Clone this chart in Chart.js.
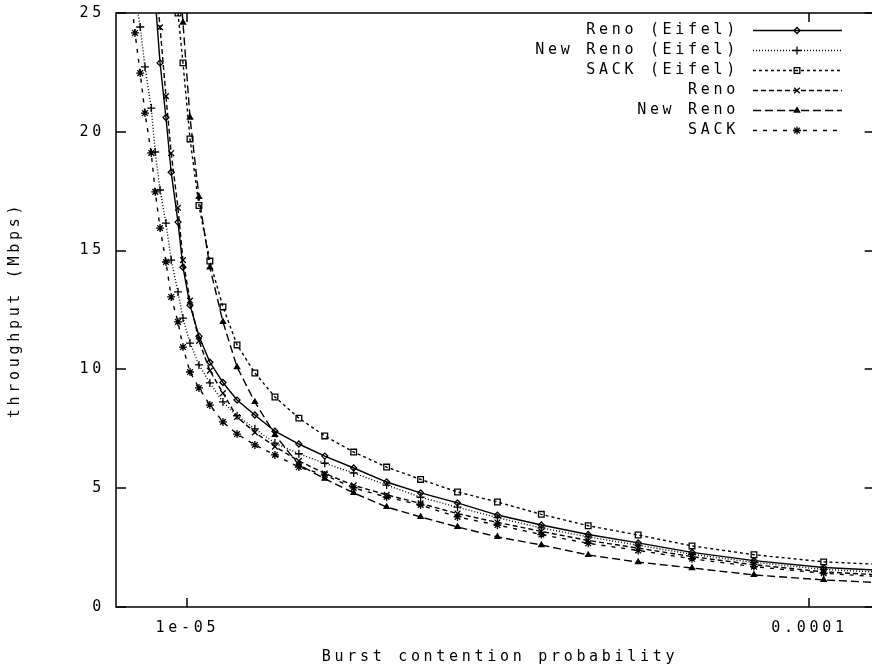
<!DOCTYPE html>
<html>
<head>
<meta charset="utf-8">
<title>Throughput vs burst contention probability</title>
<script src="https://cdn.jsdelivr.net/npm/chart.js@4.4.1/dist/chart.umd.min.js"></script>
<style>
  html, body { margin: 0; padding: 0; background: #fff; overflow: hidden; }
  #wrap { width: 880px; height: 671px; }
</style>
</head>
<body>
<div id="wrap"><canvas id="chart" width="880" height="671"></canvas></div>
<script>
// burst contention probability of each run (shared by all six series)
const burstProb = [
  8.09e-6, 8.24e-6, 8.40e-6, 8.55e-6, 8.75e-6, 8.88e-6, 9.04e-6, 9.24e-6,
  9.42e-6, 9.66e-6, 9.84e-6, 1.010e-5, 1.044e-5, 1.087e-5, 1.141e-5, 1.202e-5,
  1.284e-5, 1.383e-5, 1.511e-5, 1.663e-5, 1.851e-5, 2.091e-5, 2.371e-5, 2.718e-5,
  3.151e-5, 3.707e-5, 4.409e-5, 5.304e-5, 6.474e-5, 8.143e-5, 1.054e-4, 1.406e-4
];

// throughput (Mbps), null = run off the top of the plot
const renoEifel = [
  null, null, null, null, null, 25.6, 22.9, 20.6,
  18.3, 16.2, 14.3, 12.7, 11.4, 10.3, 9.45, 8.71,
  8.08, 7.40, 6.86, 6.35, 5.85, 5.26, 4.80, 4.38,
  3.87, 3.45, 3.05, 2.70, 2.30, 1.95, 1.66, 1.50
];
const newRenoEifel = [
  null, 25.8, 24.41, 22.73, 21.0, 19.15, 17.55, 16.16,
  14.6, 13.26, 12.16, 11.11, 10.19, 9.43, 8.63, 8.05,
  7.50, 6.90, 6.45, 6.05, 5.64, 5.13, 4.62, 4.20,
  3.76, 3.33, 2.95, 2.60, 2.22, 1.88, 1.58, 1.42
];
const sackEifel = [
  null, null, null, null, null, null, null, null,
  null, 25.0, 22.9, 19.7, 16.9, 14.56, 12.63, 11.03,
  9.85, 8.84, 7.95, 7.20, 6.52, 5.89, 5.37, 4.84,
  4.42, 3.90, 3.42, 3.03, 2.57, 2.20, 1.90, 1.75
];
const reno = [
  null, null, null, null, null, 26.5, 24.4, 21.5,
  19.1, 16.8, 14.6, 12.9, 11.2, 9.95, 9.0, 8.0,
  7.35, 6.75, 6.15, 5.62, 5.12, 4.72, 4.36, 3.93,
  3.56, 3.18, 2.80, 2.48, 2.12, 1.78, 1.48, 1.30
];
const newReno = [
  null, null, null, null, null, null, null, null,
  null, 27.5, 24.6, 20.6, 17.26, 14.3, 12.0, 10.1,
  8.63, 7.25, 5.98, 5.40, 4.80, 4.21, 3.79, 3.37,
  2.95, 2.61, 2.19, 1.89, 1.64, 1.35, 1.14, 0.98
];
const sack = [
  26.0, 24.16, 22.47, 20.79, 19.11, 17.47, 15.95, 14.52,
  13.05, 12.0, 10.94, 9.89, 9.22, 8.50, 7.79, 7.28,
  6.82, 6.40, 5.89, 5.56, 5.01, 4.63, 4.29, 3.79,
  3.45, 3.05, 2.68, 2.38, 2.03, 1.70, 1.42, 1.22
];

const seriesLabels = ['Reno (Eifel)', 'New Reno (Eifel)', 'SACK (Eifel)', 'Reno', 'New Reno', 'SACK'];
const seriesValues = [renoEifel, newRenoEifel, sackEifel, reno, newReno, sack];

const yTicks = [0, 5, 10, 15, 20, 25];
const xTickValues = [1e-5, 1e-4];
const xTickLabels = ['1e-05', '0.0001'];
const xTitle = 'Burst contention probability';
const yTitle = 'throughput (Mbps)';

// gnuplot style: black lines, dash pattern + point type per series
const seriesStyles = [
  { dash: [], point: 'rectRot', radius: 3, fill: 'rgba(0,0,0,0)' },
  { dash: [1, 2], point: 'cross', radius: 4, fill: 'rgba(0,0,0,0)' },
  { dash: [3, 3], point: 'rect', radius: 4, fill: 'rgba(0,0,0,0)' },
  { dash: [5, 3], point: 'crossRot', radius: 4, fill: 'rgba(0,0,0,0)' },
  { dash: [8, 4], point: 'triangle', radius: 3, fill: '#000' },
  { dash: [4, 6], point: 'star', radius: 4, fill: '#000' }
];

const MONO = "'DejaVu Sans Mono', monospace";
const SPACING = '3.7px';
const tickFont = { family: MONO, size: 15 };

function toPoints(ys) {
  return burstProb
    .map((x, i) => ({ x: x, y: ys[i] }))
    .filter(p => p.y !== null);
}

const datasets = seriesValues.map((ys, i) => {
  const s = seriesStyles[i];
  return {
    label: seriesLabels[i],
    data: toPoints(ys),
    borderColor: '#000',
    borderWidth: 1.4,
    borderDash: s.dash,
    pointStyle: s.point,
    pointRadius: s.radius,
    pointBorderColor: '#000',
    pointBackgroundColor: s.fill,
    pointBorderWidth: 1.3,
    tension: 0,
    clip: 0
  };
});

// frame, inward/mirrored ticks, x label and the gnuplot-like key
const gnuplotFrame = {
  id: 'gnuplotFrame',
  beforeUpdate(chart) { chart.ctx.letterSpacing = SPACING; },
  beforeDraw(chart) {
    const ctx = chart.ctx;
    ctx.letterSpacing = SPACING;
    ctx.save();
    ctx.fillStyle = '#fff';
    ctx.fillRect(0, 0, chart.width, chart.height);
    ctx.restore();
  },
  afterDraw(chart) {
    const { ctx, chartArea: a, scales: { x, y } } = chart;
    ctx.save();
    ctx.strokeStyle = '#000';
    ctx.lineWidth = 1.5;
    ctx.setLineDash([]);
    ctx.strokeRect(a.left, a.top, a.right - a.left, a.bottom - a.top);

    ctx.beginPath();
    yTicks.forEach(v => {
      const py = Math.round(y.getPixelForValue(v));
      ctx.moveTo(a.left, py); ctx.lineTo(a.left + 10, py);
      ctx.moveTo(a.right, py); ctx.lineTo(a.right - 10, py);
    });
    xTickValues.forEach(v => {
      const px = Math.round(x.getPixelForValue(v));
      ctx.moveTo(px, a.bottom); ctx.lineTo(px, a.bottom - 9);
      ctx.moveTo(px, a.top); ctx.lineTo(px, a.top + 9);
    });
    ctx.stroke();

    ctx.font = '15px ' + MONO;
    ctx.letterSpacing = SPACING;
    ctx.fillStyle = '#000';
    ctx.textBaseline = 'middle';

    // x axis label
    ctx.textAlign = 'center';
    ctx.fillText(xTitle, 500, 657);

    // key
    ctx.textAlign = 'right';
    chart.data.datasets.forEach((ds, i) => {
      const rowY = 30 + 20 * i;
      ctx.fillStyle = '#000';
      ctx.fillText(ds.label, 739, rowY);
      ctx.lineWidth = 1.3;
      ctx.setLineDash(ds.borderDash);
      ctx.beginPath();
      ctx.moveTo(753, rowY + 0.5);
      ctx.lineTo(842, rowY + 0.5);
      ctx.stroke();
      ctx.setLineDash([]);
      ctx.fillStyle = ds.pointBackgroundColor;
      Chart.helpers.drawPoint(ctx, {
        pointStyle: ds.pointStyle, radius: ds.pointRadius, rotation: 0, borderWidth: 1.3
      }, 797, rowY + 0.5);
    });
    ctx.restore();
  }
};

new Chart(document.getElementById('chart'), {
  type: 'line',
  data: { datasets: datasets },
  plugins: [gnuplotFrame],
  options: {
    responsive: false,
    animation: false,
    layout: { padding: { left: 0, top: 13, right: 4, bottom: 0 } },
    plugins: { legend: { display: false }, tooltip: { enabled: false } },
    scales: {
      x: {
        type: 'logarithmic',
        min: 7.68e-6,
        max: 1.273e-4,
        grid: { display: false, drawTicks: false },
        border: { display: false },
        afterBuildTicks: s => { s.ticks = xTickValues.map(v => ({ value: v })); },
        afterFit: s => { s.height = 64; s.paddingLeft = 0; s.paddingRight = 0; },
        ticks: {
          autoSkip: false, maxRotation: 0, padding: 12, color: '#000', font: tickFont,
          callback: (v, i) => xTickLabels[i]
        },
        title: { display: false }
      },
      y: {
        min: 0,
        max: 25,
        grid: { display: false, drawTicks: false },
        border: { display: false },
        afterBuildTicks: s => { s.ticks = yTicks.map(v => ({ value: v })); },
        afterFit: s => { s.width = 116; s.paddingTop = 0; s.paddingBottom = 0; },
        ticks: { padding: 11, color: '#000', font: tickFont, callback: v => String(v) },
        title: {
          display: true, text: yTitle, color: '#000',
          font: tickFont, padding: { top: 6, bottom: 0 }
        }
      }
    }
  }
});
</script>
</body>
</html>
